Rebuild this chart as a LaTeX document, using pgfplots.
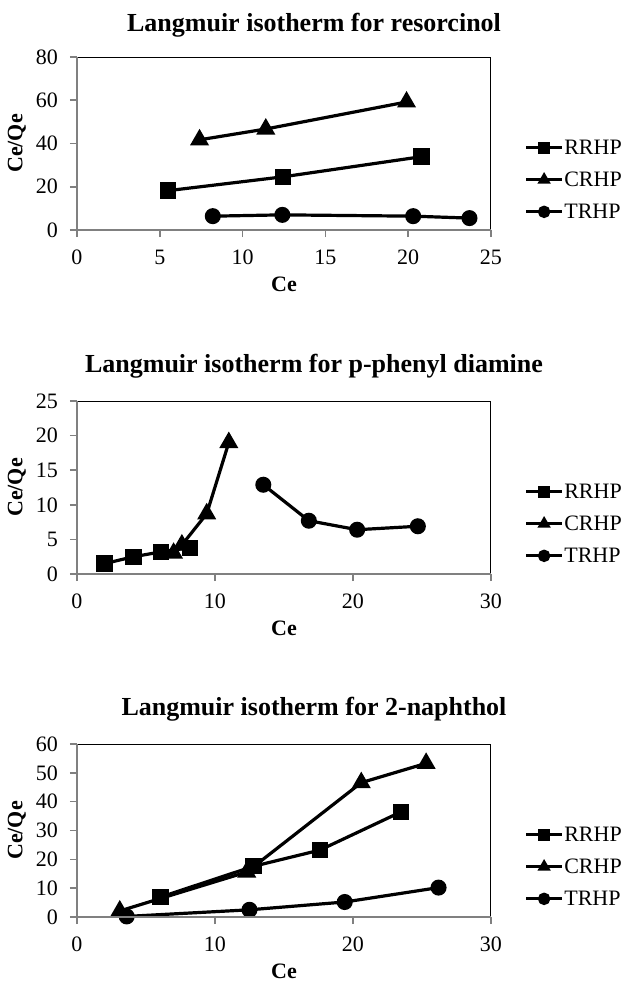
\documentclass[border=0pt]{standalone}
\usepackage{fontspec}
\setmainfont{Liberation Serif}
\usepackage{pgfplots}
\pgfplotsset{compat=1.18}

\pgfplotsset{
  lang/.style={
    scale only axis, width=207pt, height=86.5pt, anchor=north west,
    axis line style={black, line width=0.5pt},
    tick align=outside, tick pos=left, major tick length=3.5pt,
    every tick/.style={gray, line width=0.8pt},
    tick label style={font=\fontsize{11}{13}\selectfont},
    yticklabel style={xshift=-2.5pt},
    xticklabel style={yshift=-3pt},
    /pgf/number format/assume math mode=true,
    label style={font=\bfseries\fontsize{11}{13}\selectfont},
    xlabel=Ce, ylabel=Ce/Qe,
    ylabel style={at={(axis description cs:-0.145,0.5)}, anchor=center},
    xlabel style={at={(axis description cs:0.5,-0.312)}, anchor=center},
    legend style={at={(1.08,0.29)}, anchor=west, draw=none, fill=none,
      font=\fontsize{11}{13}\selectfont, row sep=7.5pt, inner xsep=0pt, inner ysep=0pt,
      nodes={inner xsep=0.3pt, inner ysep=0pt, text height=7.5pt, text depth=1pt}},
    legend cell align=left,
    legend image code/.code={\draw[mark repeat=2, mark phase=2, mark size=2.3pt]
      plot coordinates {(0pt,0pt) (9pt,0pt) (18pt,0pt)};},
    every axis plot/.append style={black, line width=1.6pt, mark options={solid}},
    extra description/.code={\draw[gray, line width=0.8pt]
      (rel axis cs:0,1) -- (rel axis cs:0,0) -- (rel axis cs:1,0);},
  },
  rr/.style={mark=square*, mark size=3.3pt},
  cr/.style={mark=triangle*, mark size=3.9pt},
  tr/.style={mark=*, mark size=3.2pt},
}

\begin{document}
\begin{tikzpicture}
\useasboundingbox (0,0) rectangle (314pt,-492.5pt);

% resorcinol
\node[font=\bfseries\fontsize{13}{15}\selectfont, anchor=base] at (157pt,-16pt) {Langmuir isotherm for resorcinol};
\begin{axis}[lang, at={(38.5pt,-28.5pt)},
  xmin=0, xmax=25, ymin=0, ymax=80, xtick={0,5,...,25}, ytick={0,20,...,80}]
\addplot[rr] coordinates {(5.5,18.2) (12.45,24.6) (20.8,33.9)};
\addplot[cr] coordinates {(7.4,41.7) (11.4,46.7) (19.9,59.2)};
\addplot[tr] coordinates {(8.2,6.4) (12.4,7.0) (20.3,6.4) (23.7,5.5)};
\legend{RRHP,CRHP,TRHP}
\end{axis}

% p-phenyl diamine
\node[font=\bfseries\fontsize{13}{15}\selectfont, anchor=base] at (157pt,-186pt) {Langmuir isotherm for p-phenyl diamine};
\begin{axis}[lang, at={(38.5pt,-200.5pt)},
  xmin=0, xmax=30, ymin=0, ymax=25, xtick={0,10,...,30}, ytick={0,5,...,25}]
\addplot[rr] coordinates {(2.0,1.5) (4.1,2.5) (6.1,3.2) (8.2,3.8)};
\addplot[cr] coordinates {(7.0,3.0) (7.6,4.2) (9.4,8.7) (11.0,19.0)};
\addplot[tr] coordinates {(13.5,12.9) (16.8,7.7) (20.3,6.4) (24.7,6.9)};
\legend{RRHP,CRHP,TRHP}
\end{axis}

% 2-naphthol
\node[font=\bfseries\fontsize{13}{15}\selectfont, anchor=base] at (157pt,-357.5pt) {Langmuir isotherm for 2-naphthol};
\begin{axis}[lang, at={(38.5pt,-372pt)},
  xmin=0, xmax=30, ymin=0, ymax=60, xtick={0,10,...,30}, ytick={0,10,...,60}]
\addplot[rr] coordinates {(6.05,6.9) (12.8,17.6) (17.6,23.2) (23.5,36.5)};
\addplot[cr] coordinates {(3.1,2.1) (12.3,15.6) (20.6,46.6) (25.3,53.3)};
\addplot[tr] coordinates {(3.6,0.2) (12.5,2.5) (19.4,5.2) (26.2,10.2)};
\legend{RRHP,CRHP,TRHP}
\end{axis}
\end{tikzpicture}
\end{document}
